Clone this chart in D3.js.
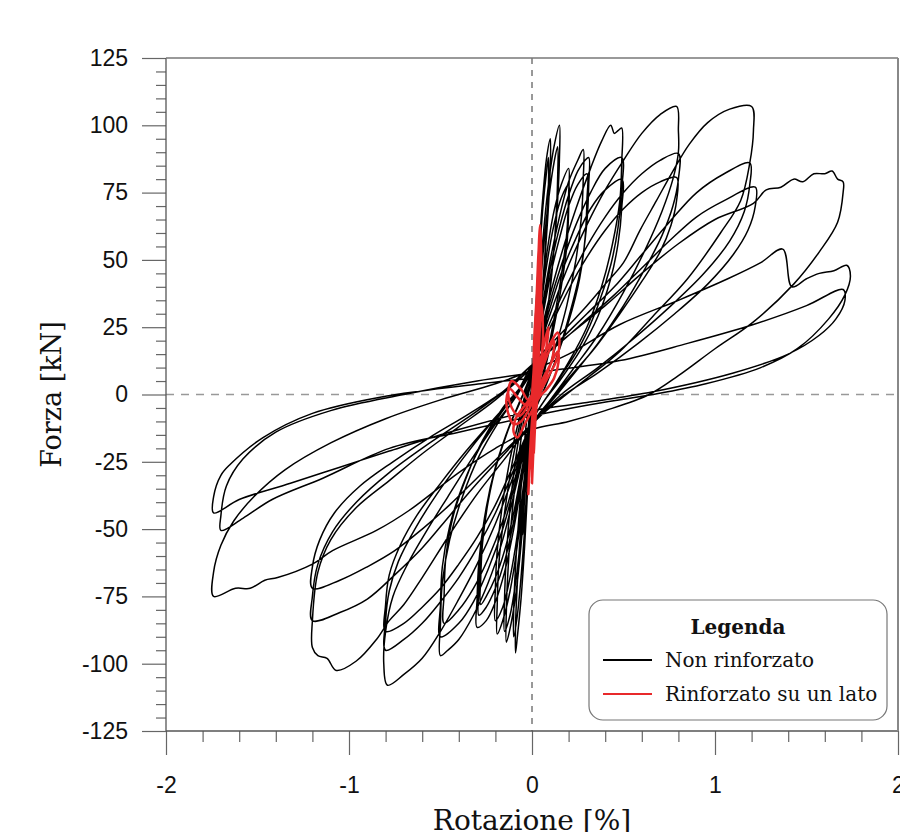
<!DOCTYPE html>
<html>
<head>
<meta charset="utf-8">
<script src="https://cdn.jsdelivr.net/npm/d3@7"></script>
<style>
  body { margin: 0; background: #fff; }
</style>
</head>
<body>
<div id="chart"></div>
<script>
// Non rinforzato: cicli di carico, per livello di rotazione [%] / forza [kN]
const ciclo005 = [[0,0],[0.01,15],[0.03,38],[0.05,55],[0.05,48],[0.03,28],[0.01,8],[0,-2],[-0.01,-16],[-0.03,-38],[-0.05,-52],[-0.05,-45],[-0.03,-26],[-0.01,-6],[0,3]];
const ciclo01 = [[0.02,30],[0.04,55],[0.06,74],[0.08,88],[0.10,95],[0.10,85],[0.09,70],[0.07,50],[0.05,32],[0.03,15],[0.01,2],[0,-5],
  [-0.02,-30],[-0.04,-56],[-0.06,-76],[-0.08,-90],[-0.09,-96],[-0.09,-86],[-0.08,-70],[-0.06,-48],[-0.04,-30],[-0.02,-12],[0,3],
  [0.02,26],[0.04,50],[0.06,70],[0.08,83],[0.09,88],[0.09,78],[0.08,62],[0.06,42],[0.04,24],[0.02,8],[0,-5],
  [-0.02,-26],[-0.04,-50],[-0.06,-68],[-0.08,-82],[-0.10,-90],[-0.10,-80],[-0.09,-64],[-0.07,-44],[-0.05,-26],[-0.03,-10],[0,4]];
const ciclo015 = [[0.03,30],[0.06,58],[0.09,78],[0.12,92],[0.15,100],[0.15,88],[0.14,72],[0.12,54],[0.09,34],[0.06,17],[0.03,4],[0,-7],
  [-0.03,-30],[-0.06,-56],[-0.09,-75],[-0.12,-87],[-0.14,-92],[-0.14,-80],[-0.13,-64],[-0.11,-45],[-0.08,-27],[-0.05,-12],[-0.02,0],[0,6],
  [0.03,26],[0.06,52],[0.09,72],[0.12,86],[0.14,92],[0.14,80],[0.13,64],[0.11,46],[0.08,28],[0.05,12],[0.02,0],[0,-7],
  [-0.03,-28],[-0.06,-52],[-0.09,-70],[-0.12,-82],[-0.15,-88],[-0.15,-76],[-0.14,-60],[-0.12,-42],[-0.09,-24],[-0.05,-8],[-0.02,2],[0,7]];
const ciclo02 = [[0.04,30],[0.08,52],[0.12,68],[0.16,78],[0.20,84],[0.20,74],[0.19,60],[0.16,44],[0.12,28],[0.08,14],[0.04,2],[0,-8],
  [-0.04,-32],[-0.08,-56],[-0.12,-73],[-0.16,-84],[-0.19,-89],[-0.19,-78],[-0.18,-62],[-0.15,-44],[-0.11,-26],[-0.07,-12],[-0.03,0],[0,7],
  [0.04,28],[0.08,48],[0.12,63],[0.16,73],[0.20,78],[0.20,68],[0.19,55],[0.16,40],[0.12,25],[0.08,12],[0.04,1],[0,-8],
  [-0.04,-30],[-0.08,-52],[-0.12,-68],[-0.16,-79],[-0.20,-84],[-0.20,-72],[-0.19,-58],[-0.16,-40],[-0.12,-24],[-0.07,-9],[-0.03,2],[0,8]];
const ciclo03 = [[0.05,30],[0.10,50],[0.15,66],[0.20,79],[0.25,87],[0.28,91],[0.28,80],[0.27,66],[0.24,50],[0.19,33],[0.13,18],[0.07,5],[0,-9],
  [-0.05,-30],[-0.10,-50],[-0.15,-66],[-0.20,-77],[-0.25,-84],[-0.30,-86.5],[-0.30,-76],[-0.29,-62],[-0.26,-46],[-0.21,-30],[-0.14,-15],[-0.07,-3],[0,8],
  [0.05,28],[0.10,47],[0.15,62],[0.20,74],[0.25,83],[0.29,87],[0.31,88],[0.31,78],[0.30,64],[0.27,48],[0.21,31],[0.15,17],[0.08,4],[0,-9],
  [-0.05,-28],[-0.10,-47],[-0.15,-62],[-0.20,-72],[-0.25,-79],[-0.29,-82],[-0.29,-72],[-0.28,-58],[-0.25,-42],[-0.20,-27],[-0.13,-13],[-0.06,-2],[0,8],
  [0.05,26],[0.10,44],[0.15,58],[0.20,70],[0.25,78],[0.30,82],[0.30,72],[0.29,58],[0.26,43],[0.20,27],[0.13,13],[0.06,1],[0,-9],
  [-0.05,-26],[-0.10,-44],[-0.15,-58],[-0.20,-68],[-0.25,-75],[-0.28,-78],[-0.28,-68],[-0.27,-55],[-0.24,-40],[-0.19,-25],[-0.12,-11],[-0.05,0],[0,9]];
const ciclo05 = [[0.08,32],[0.16,52],[0.24,69],[0.32,84],[0.38,94],[0.43,100],[0.45,97],[0.47,98],[0.49,99],[0.49,86],[0.48,72],[0.44,56],[0.38,40],[0.30,25],[0.20,12],[0.10,1],[0,-10],
  [-0.08,-32],[-0.16,-54],[-0.24,-70],[-0.32,-82],[-0.40,-91],[-0.46,-95],[-0.50,-97],[-0.50,-85],[-0.49,-70],[-0.45,-54],[-0.38,-38],[-0.29,-23],[-0.18,-10],[-0.08,0],[0,9],
  [0.08,30],[0.16,48],[0.24,63],[0.32,75],[0.40,84],[0.49,88],[0.49,76],[0.47,62],[0.43,48],[0.36,33],[0.27,19],[0.16,7],[0.07,-2],[0,-10],
  [-0.08,-30],[-0.16,-50],[-0.24,-65],[-0.32,-77],[-0.40,-85],[-0.50,-90],[-0.50,-78],[-0.49,-64],[-0.45,-49],[-0.38,-34],[-0.28,-19],[-0.17,-7],[-0.07,2],[0,10],
  [0.08,28],[0.16,45],[0.24,58],[0.32,69],[0.40,76],[0.49,80],[0.49,69],[0.47,56],[0.43,43],[0.36,29],[0.26,16],[0.15,5],[0.06,-3],[0,-10],
  [-0.08,-28],[-0.16,-47],[-0.24,-61],[-0.32,-72],[-0.40,-80],[-0.48,-85],[-0.48,-74],[-0.47,-60],[-0.43,-45],[-0.36,-31],[-0.27,-17],[-0.16,-5],[-0.06,3],[0,10]];
const ciclo08 = [[0.10,30],[0.20,48],[0.30,63],[0.40,76],[0.50,87],[0.60,97],[0.70,104],[0.79,107],[0.80,98],[0.80,90],[0.77,80],[0.71,68],[0.62,54],[0.50,38],[0.36,22],[0.22,9],[0.10,-2],[0,-11],
  [-0.10,-30],[-0.20,-48],[-0.30,-63],[-0.40,-76],[-0.50,-88],[-0.60,-98],[-0.70,-104],[-0.79,-108],[-0.81,-100],[-0.80,-88],[-0.76,-75],[-0.68,-63],[-0.57,-50],[-0.46,-38],[-0.33,-24],[-0.20,-11],[-0.08,0],[0,10],
  [0.10,27],[0.20,42],[0.30,55],[0.40,66],[0.50,75],[0.60,82],[0.70,87],[0.80,89.5],[0.80,80],[0.77,70],[0.71,59],[0.62,47],[0.50,33],[0.36,19],[0.22,7],[0.10,-3],[0,-11],
  [-0.10,-28],[-0.20,-44],[-0.30,-57],[-0.40,-68],[-0.50,-77],[-0.60,-85],[-0.70,-91],[-0.80,-95],[-0.80,-84],[-0.78,-73],[-0.73,-62],[-0.64,-50],[-0.52,-37],[-0.38,-24],[-0.24,-12],[-0.10,-1],[0,10],
  [0.10,25],[0.20,39],[0.30,51],[0.40,61],[0.50,69],[0.60,75],[0.70,79],[0.79,80.6],[0.79,72],[0.76,63],[0.70,53],[0.60,42],[0.48,30],[0.34,17],[0.20,6],[0.08,-4],[0,-11],
  [-0.10,-26],[-0.20,-41],[-0.30,-53],[-0.40,-63],[-0.50,-72],[-0.60,-79],[-0.70,-85],[-0.80,-88],[-0.80,-78],[-0.78,-67],[-0.72,-56],[-0.63,-45],[-0.50,-33],[-0.36,-21],[-0.22,-10],[-0.08,1],[0,11]];
const ciclo12 = [[0.15,22],[0.30,33],[0.40,41],[0.50,49],[0.59,61],[0.68,72],[0.77,83],[0.86,93],[0.96,101],[1.08,106],[1.20,107],[1.21,98],[1.19,86],[1.14,72],[1.03,60],[0.85,43],[0.66,29],[0.48,16],[0.30,6],[0.15,-2],[0,-11],
  [-0.15,-24],[-0.30,-37],[-0.45,-52],[-0.60,-68],[-0.70,-78],[-0.78,-84],[-0.85,-91],[-0.96,-99],[-1.07,-102.5],[-1.12,-98],[-1.17,-97],[-1.20,-94],[-1.20,-84],[-1.17,-66],[-1.10,-54],[-0.96,-42],[-0.78,-32],[-0.60,-22],[-0.40,-12],[-0.20,-2],[0,10],
  [0.15,20],[0.30,30],[0.45,40],[0.60,52],[0.75,64],[0.90,75],[1.05,82],[1.19,86],[1.19,78],[1.16,68],[1.08,57],[0.94,45],[0.76,33],[0.56,21],[0.36,10],[0.16,0],[0,-11],
  [-0.15,-22],[-0.30,-33],[-0.45,-45],[-0.60,-57],[-0.75,-67],[-0.90,-76],[-1.05,-81],[-1.20,-84],[-1.20,-75],[-1.17,-63],[-1.09,-51],[-0.96,-40],[-0.78,-29],[-0.58,-19],[-0.36,-9],[-0.16,1],[0,11],
  [0.15,19],[0.30,28],[0.45,37],[0.60,47],[0.75,57],[0.90,66],[1.05,72],[1.22,77],[1.22,70],[1.18,61],[1.10,52],[0.96,41],[0.78,30],[0.58,19],[0.36,8],[0.16,-1],[0,-11],
  [-0.15,-21],[-0.30,-31],[-0.45,-41],[-0.60,-50],[-0.75,-58],[-0.90,-64],[-1.05,-69],[-1.20,-72],[-1.20,-64],[-1.16,-54],[-1.08,-44],[-0.94,-34],[-0.76,-25],[-0.56,-16],[-0.34,-7],[-0.14,2],[0,11]];
const ciclo17 = [[0.20,22],[0.40,33],[0.60,45],[0.80,56],[1.00,65],[1.21,71],[1.28,76],[1.36,77],[1.43,80],[1.48,79],[1.54,82],[1.60,82],[1.64,83],[1.67,80],[1.70,79],[1.70,75],[1.67,64],[1.57,53],[1.43,41],[1.21,27],[1.00,17],[0.80,7],[0.64,0],[0.40,-6],[0.20,-10],[0,-13],
  [-0.20,-20],[-0.40,-29],[-0.67,-43],[-0.85,-50.5],[-1.09,-58],[-1.20,-63],[-1.39,-68],[-1.46,-69],[-1.54,-72],[-1.62,-72],[-1.74,-75],[-1.74,-66],[-1.70,-56],[-1.63,-47],[-1.52,-38],[-1.35,-28],[-1.10,-18],[-0.80,-9],[-0.50,-2],[-0.20,4],[0,9],
  [0.20,15],[0.48,26],[0.80,35],[1.07,43],[1.25,49],[1.37,54],[1.42,40],[1.50,43],[1.57,45],[1.65,46],[1.72,48],[1.74,44],[1.71,37],[1.62,28],[1.45,17],[1.25,10],[0.95,4],[0.66,0],[0.30,-4],[0,-8],
  [-0.40,-14],[-0.78,-20],[-1.14,-31],[-1.42,-39],[-1.58,-46],[-1.70,-50.5],[-1.70,-45],[-1.67,-34],[-1.58,-24],[-1.40,-14],[-1.10,-6],[-0.70,0],[-0.30,5],[0,8],
  [0.48,12.6],[0.85,19],[1.21,26],[1.50,33],[1.70,39],[1.71,35],[1.66,28],[1.57,22],[1.40,15],[1.10,8],[0.66,1],[0.30,-3],[0,-6],
  [-0.40,-13],[-0.78,-21],[-1.05,-27],[-1.32,-33],[-1.60,-39],[-1.74,-44],[-1.74,-38],[-1.70,-30],[-1.65,-26],[-1.47,-16],[-1.20,-7],[-0.83,-1],[-0.28,4],[0,6]];

// Rinforzato su un lato
const rinforzato = [[0,0],[0.01,10],[0.02,25],[0.03,42],[0.044,63],[0.05,50],[0.045,35],[0.035,18],[0.02,5],[0.005,-8],[-0.005,-20],[-0.015,-30],[-0.02,-37],[-0.015,-28],[-0.005,-15],[0.01,-2],
  [0.03,8],[0.06,14],[0.10,19],[0.14,23],[0.15,19],[0.13,12],[0.10,8],[0.06,3],[0.02,-2],[-0.03,-4],[-0.08,-1],[-0.12,2],[-0.14,-2],[-0.13,-7],[-0.10,-11],[-0.06,-10],[-0.02,-6],
  [0.02,0],[0.06,6],[0.10,11],[0.14,16],[0.145,12],[0.12,6],[0.08,2],[0.04,-1],[0,-6],[-0.04,-11],[-0.08,-16],[-0.10,-14],[-0.09,-9],[-0.05,-5],[0,0],
  [0.02,12],[0.035,30],[0.045,50],[0.05,40],[0.04,20],[0.03,5],[0.015,-10],[0.005,-25],[0,-33],[0.005,-22],[0.02,-5],[0.04,10],[0.07,20],[0.09,25],[0.08,18],[0.05,8],[0.02,0],
  [0.01,15],[0.025,36],[0.04,56],[0.05,44],[0.045,28],[0.03,10],[0.01,-6],[-0.005,-18],[-0.01,-28],[0,-20],[0.015,-6],[0.04,6],[0.08,14],[0.12,20],[0.11,13],[0.07,6],[0.03,0],
  [-0.02,-2],[-0.06,2],[-0.11,5],[-0.13,1],[-0.11,-5],[-0.07,-8],[-0.03,-5],[0.01,2],[0.03,18],[0.05,34],[0.06,22],[0.04,5],[0.02,-8],[0.01,-22],[0.015,-12],[0.03,0]];

const xMajor = [-2, -1, 0, 1, 2];
const yMajor = [-125, -100, -75, -50, -25, 0, 25, 50, 75, 100, 125];
const xMinor = [-1.8, -1.6, -1.4, -1.2, -0.8, -0.6, -0.4, -0.2, 0.2, 0.4, 0.6, 0.8, 1.2, 1.4, 1.6, 1.8];
const yMinor = [-120, -115, -110, -105, -95, -90, -85, -80, -70, -65, -60, -55, -45, -40, -35, -30, -20, -15, -10, -5,
  5, 10, 15, 20, 30, 35, 40, 45, 55, 60, 65, 70, 80, 85, 90, 95, 105, 110, 115, 120];

const width = 900, height = 832;
const mLeft = 166, mRight = 898, mTop = 58, mBottom = 731;

const svg = d3.select("#chart").append("svg")
  .attr("width", width)
  .attr("height", height);

const x = d3.scaleLinear().domain([-2, 2]).range([mLeft, mRight]);
const y = d3.scaleLinear().domain([-125, 125]).range([mBottom, mTop]);

svg.append("defs").append("clipPath").attr("id", "plot")
  .append("rect").attr("x", mLeft).attr("y", mTop).attr("width", mRight - mLeft).attr("height", mBottom - mTop);

// zero lines
svg.append("line")
  .attr("x1", mLeft).attr("x2", mRight).attr("y1", y(0)).attr("y2", y(0))
  .attr("stroke", "#999").attr("stroke-width", 1.3).attr("stroke-dasharray", "8,7");
svg.append("line")
  .attr("x1", x(0)).attr("x2", x(0)).attr("y1", mTop).attr("y2", mBottom)
  .attr("stroke", "#333").attr("stroke-width", 1).attr("stroke-dasharray", "6,6");

// series
const line = d3.line()
  .x(d => x(d[0]))
  .y(d => y(d[1]))
  .curve(d3.curveCatmullRom.alpha(0.5));

const black = [].concat(ciclo005, ciclo01, ciclo015, ciclo02, ciclo03, ciclo05, ciclo08, ciclo12, ciclo17);

const plot = svg.append("g").attr("clip-path", "url(#plot)");
plot.append("path")
  .attr("d", line(black))
  .attr("fill", "none")
  .attr("stroke", "#000")
  .attr("stroke-width", 1.5)
  .attr("stroke-linejoin", "round");
plot.append("path")
  .attr("d", line(rinforzato))
  .attr("fill", "none")
  .attr("stroke", "#e8292b")
  .attr("stroke-width", 2.5)
  .attr("stroke-linejoin", "round");

// axes
const tickFont = "'Liberation Sans', Arial, sans-serif";
const fmt = d => String(d);

const yMinorAxis = svg.append("g")
  .attr("transform", `translate(${mLeft},0)`)
  .call(d3.axisLeft(y).tickValues(yMinor).tickSize(10).tickFormat(""));
const yAxis = svg.append("g")
  .attr("transform", `translate(${mLeft},0)`)
  .call(d3.axisLeft(y).tickValues(yMajor).tickSize(24).tickPadding(14).tickFormat(fmt));
const xMinorAxis = svg.append("g")
  .attr("transform", `translate(0,${mBottom})`)
  .call(d3.axisBottom(x).tickValues(xMinor).tickSize(11).tickFormat(""));
const xAxis = svg.append("g")
  .attr("transform", `translate(0,${mBottom})`)
  .call(d3.axisBottom(x).tickValues(xMajor).tickSize(24).tickPadding(22).tickFormat(fmt));

[yMinorAxis, yAxis, xMinorAxis, xAxis].forEach(g => {
  g.select(".domain").remove();
  g.selectAll(".tick line").attr("stroke", "#666").attr("stroke-width", 1.2);
  g.selectAll("text")
    .attr("fill", "#111")
    .style("font-family", tickFont)
    .style("font-size", "23px");
});

// frame lines
svg.append("line").attr("x1", mLeft).attr("x2", mLeft).attr("y1", mTop).attr("y2", mBottom)
  .attr("stroke", "#555").attr("stroke-width", 1.3);
svg.append("line").attr("x1", mLeft).attr("x2", mRight).attr("y1", mBottom).attr("y2", mBottom)
  .attr("stroke", "#555").attr("stroke-width", 1.3);
svg.append("line").attr("x1", mLeft).attr("x2", mRight).attr("y1", mTop).attr("y2", mTop)
  .attr("stroke", "#777").attr("stroke-width", 1.3);
svg.append("line").attr("x1", mRight).attr("x2", mRight).attr("y1", mTop).attr("y2", mBottom)
  .attr("stroke", "#888").attr("stroke-width", 2);

// axis titles
const titleFont = "'DejaVu Serif', 'Liberation Serif', serif";
svg.append("text")
  .attr("x", x(0))
  .attr("y", 830)
  .attr("text-anchor", "middle")
  .style("font-family", titleFont)
  .style("font-size", "28px")
  .attr("fill", "#111")
  .text("Rotazione [%]");
svg.append("text")
  .attr("transform", `translate(61,${y(0)}) rotate(-90)`)
  .attr("text-anchor", "middle")
  .style("font-family", titleFont)
  .style("font-size", "27px")
  .attr("fill", "#111")
  .text("Forza [kN]");

// legend
const legend = svg.append("g").attr("transform", "translate(589,600)");
legend.append("rect")
  .attr("width", 298).attr("height", 120)
  .attr("rx", 14).attr("ry", 14)
  .attr("fill", "#fff")
  .attr("stroke", "#777")
  .attr("stroke-width", 1.2);
legend.append("text")
  .attr("x", 149).attr("y", 34)
  .attr("text-anchor", "middle")
  .style("font-family", titleFont)
  .style("font-size", "20px")
  .style("font-weight", "bold")
  .attr("fill", "#111")
  .text("Legenda");
const items = [
  { label: "Non rinforzato", color: "#000" },
  { label: "Rinforzato su un lato", color: "#e8292b" }
];
items.forEach((d, i) => {
  const row = legend.append("g").attr("transform", `translate(0,${60 + i * 34})`);
  row.append("line")
    .attr("x1", 14).attr("x2", 63)
    .attr("stroke", d.color).attr("stroke-width", 2);
  row.append("text")
    .attr("x", 76).attr("y", 7)
    .style("font-family", titleFont)
    .style("font-size", "20px")
    .attr("fill", "#111")
    .text(d.label);
});
</script>
</body>
</html>
